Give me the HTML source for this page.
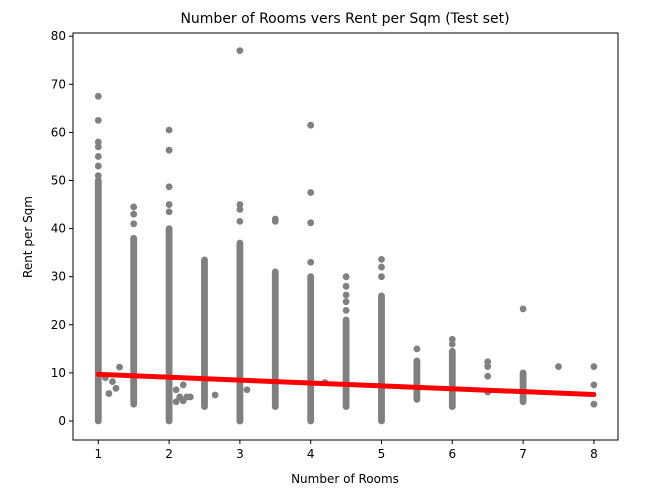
<!DOCTYPE html>
<html><head><meta charset="utf-8"><style>
body{margin:0;background:#fff;}
svg{display:block;font-family:"DejaVu Sans","Liberation Sans",sans-serif;}
</style></head><body>
<svg id="chart" width="654" height="494">
<text x="345" y="23" text-anchor="middle" font-size="14" fill="#000">Number of Rooms vers Rent per Sqm (Test set)</text>
<text x="345" y="483" text-anchor="middle" font-size="12" fill="#000">Number of Rooms</text>
<text x="0" y="0" transform="translate(32,237) rotate(-90)" text-anchor="middle" font-size="12" fill="#000">Rent per Sqm</text>
<g id="marks"></g>
<g id="axes"></g>
</svg>
<script>
const denseX = [1, 1.5, 2, 2.5, 3, 3.5, 4, 4.5, 5, 5.5, 6, 7];
const denseLo = [0, 3.5, 0, 3, 0, 3, 0, 3, 0, 4.5, 3, 4];
const denseHi = [50, 38, 40, 33.5, 37, 31, 30, 21, 26, 12.5, 14.5, 10];
const pointsX = [1,1,1,1,1,1,1,1.1,1.15,1.2,1.25,1.3,
 1.5,1.5,1.5,
 2,2,2,2,2,2.1,2.15,2.2,2.2,2.25,2.3,2.1,
 2.65,
 3,3,3,3,3,3.1,
 3.5,3.5,
 4,4,4,4,4.2,
 4.5,4.5,4.5,4.5,4.5,
 5,5,5,5,5,
 5.5,6,6,6.5,6.5,6.5,6.5,7,7.5,8,8,8];
const pointsY = [67.5,62.5,58,57,55,53,51,9,5.7,8.2,6.8,11.2,
 44.5,43,41,
 60.5,56.3,48.7,45,43.5,6.5,5,4.2,7.5,5,5,4,
 5.4,
 77,45,44,41.5,0,6.5,
 42,41.5,
 61.5,47.5,41.2,33,8,
 30,28,26.2,24.8,23,
 33.6,32,30,25.5,1,
 15,17,16,12.3,11.3,9.3,6,23.3,11.3,11.3,7.5,3.5];
const lineX = [1, 8];
const lineY = [9.7, 5.5];
const xTicks = [1,2,3,4,5,6,7,8];
const yTicks = [0,10,20,30,40,50,60,70,80];

const L=73,R=618,T=33,B=440;
const sx = v => 98.3 + (v-1)*70.8;
const sy = v => 421 - v*4.81;
const NS="http://www.w3.org/2000/svg";
const marks=document.getElementById('marks'), axes=document.getElementById('axes');
function mk(tag, attrs, parent){const e=document.createElementNS(NS,tag);for(const k in attrs)e.setAttribute(k,attrs[k]);parent.appendChild(e);return e;}

denseX.forEach((x,i)=>{
  const r = mk('rect',{x:sx(x)-3.4,y:sy(denseHi[i])-3.4,width:6.8,height:sy(denseLo[i])-sy(denseHi[i])+6.8,rx:3.4,fill:'#808080'},marks);
  
  
});
pointsX.forEach((x,i)=>{
  const c = mk('circle',{cx:sx(x),cy:sy(pointsY[i]),r:3.4,fill:'#808080'},marks);
  
  
});
const ln = mk('line',{x1:sx(lineX[0]),y1:sy(lineY[0]),x2:sx(lineX[1]),y2:sy(lineY[1]),stroke:'#ff0000','stroke-width':5,'stroke-linecap':'round'},marks);



const fr = mk('rect',{x:L,y:T,width:R-L,height:B-T,fill:'none',stroke:'#000','stroke-width':1},axes);


xTicks.forEach(t=>{
  mk('line',{x1:sx(t),x2:sx(t),y1:B,y2:B+4,stroke:'#000'},axes);
  const tx = mk('text',{x:sx(t),y:B+18,'text-anchor':'middle','font-size':12},axes);
  tx.textContent=t;
  
  
});
yTicks.forEach(t=>{
  mk('line',{x1:L-4,x2:L,y1:sy(t),y2:sy(t),stroke:'#000'},axes);
  const tx = mk('text',{x:L-7,y:sy(t)+4,'text-anchor':'end','font-size':12},axes);
  tx.textContent=t;
  
  
});
</script>
</body></html>
